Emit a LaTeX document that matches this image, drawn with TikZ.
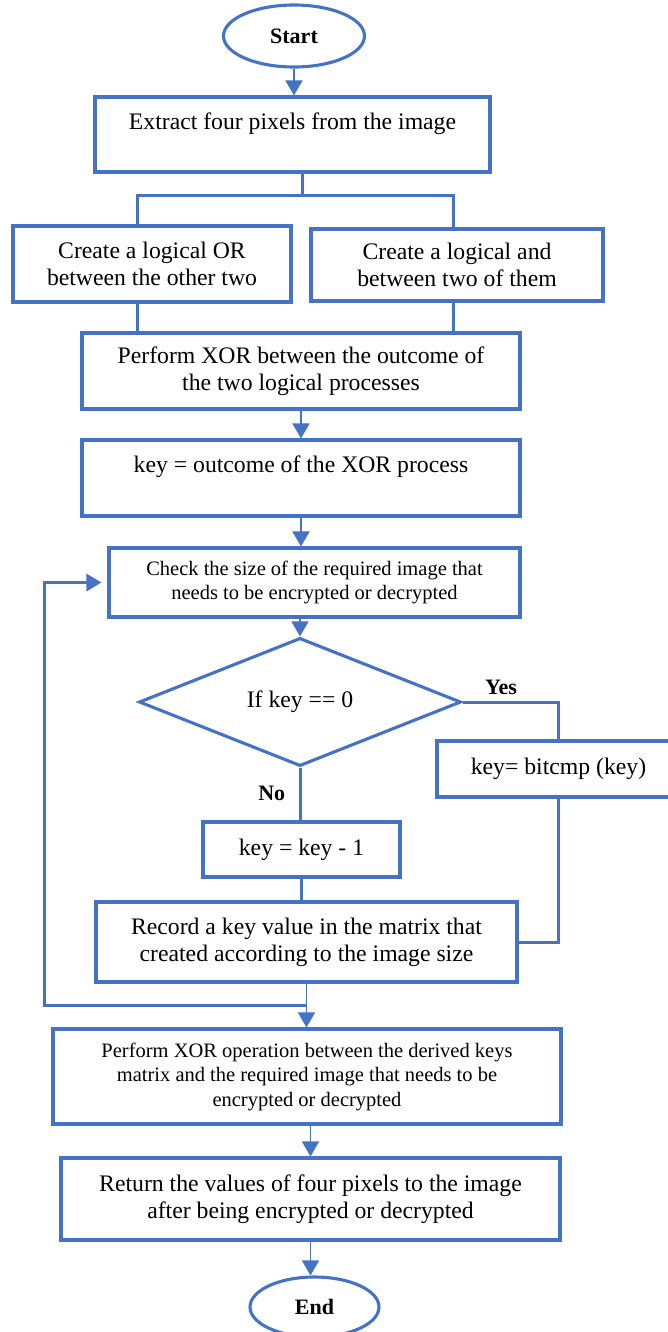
\documentclass[tikz,border=0pt]{standalone}
\usepackage{fontspec}
\setmainfont{Liberation Serif}
\usetikzlibrary{positioning, arrows.meta, calc, shapes.geometric}
\definecolor{flow_blue}{RGB}{68, 114, 196}

\begin{document}
\begin{tikzpicture}[x=1pt, y=-1pt, >={Triangle[width=17pt,length=15pt]},
      box/.style={draw=flow_blue, line width=3.1pt, align=center, inner sep=0pt,
        font=\fontsize{23.7}{27}\selectfont},
      smallbox/.style={box, font=\fontsize{20.5}{24.5}\selectfont},
      term/.style={ellipse, draw=flow_blue, line width=3.1pt, inner sep=0pt,
        font=\fontsize{22}{26}\selectfont\bfseries},
      decision/.style={diamond, draw=flow_blue, line width=3.1pt, inner sep=0pt,
        font=\fontsize{23.7}{27}\selectfont},
      link/.style={draw=flow_blue, line width=3pt},
      arr/.style={draw=flow_blue, line width=1.6pt, ->},
      tag/.style={font=\fontsize{22}{26}\selectfont\bfseries}]
    \useasboundingbox (0,0) rectangle (667,1332);
    \node[term, minimum width=141pt, minimum height=62pt] (start) at (294,36) {Start};
    \node[box, minimum width=395pt, minimum height=75pt] (extract) at (292.5,134.5)
      {Extract four pixels from the image\\ \mbox{}};
    \node[box, minimum width=278pt, minimum height=76pt] (orop) at (152,264)
      {Create a logical OR\\between the other two};
    \node[box, minimum width=292pt, minimum height=72pt] (andop) at (457,265)
      {Create a logical and\\between two of them};
    \node[box, minimum width=438pt, minimum height=76pt] (xorop) at (301,371)
      {Perform XOR between the outcome of\\the two logical processes};
    \node[box, minimum width=438pt, minimum height=76pt] (key) at (301,478)
      {key = outcome of the XOR process\\ \mbox{}};
    \node[smallbox, minimum width=411pt, minimum height=69pt] (size) at (314.5,582.5)
      {Check the size of the required image that\\needs to be encrypted or decrypted};
    \node[decision, minimum width=322pt, minimum height=105pt] (test) at (300,702) {If key == 0};
    \node[box, minimum width=243pt, minimum height=56pt] (flip) at (558.5,769) {key= bitcmp (key)};
    \node[box, minimum width=197pt, minimum height=55pt] (dec) at (301.5,849.5) {key = key - 1};
    \node[box, minimum width=421pt, minimum height=80pt] (record) at (306.5,942)
      {Record a key value in the matrix that\\created according to the image size};
    \node[smallbox, minimum width=508pt, minimum height=95pt] (apply) at (307,1076.5)
      {Perform XOR operation between the derived keys\\matrix and the required image that needs to be\\encrypted or decrypted};
    \node[box, minimum width=499pt, minimum height=82pt] (restore) at (310.5,1199)
      {Return the values of four pixels to the image\\after being encrypted or decrypted};
    \node[term, minimum width=129pt, minimum height=60pt] (stop) at (314.5,1307) {End};

    \coordinate (split) at (302,196);
    \coordinate (jl) at (137,196);
    \coordinate (jr) at (453,196);
    \coordinate (loop) at ($(record.south)+(0,22)$);

    \draw[arr] (start.south) -- (start.south |- extract.north);
    \draw[link] (split |- extract.south) -- (split);
    \draw[link] (jl |- orop.north) -- (jl) -- (jr) -- (jr |- andop.north);
    \draw[link] (jl |- orop.south) -- (jl |- xorop.north);
    \draw[link] (jr |- andop.south) -- (jr |- xorop.north);
    \draw[arr] (xorop) -- (key);
    \draw[arr] (key.south) -- (key.south |- size.north);
    \draw[arr] (test.north |- size.south) -- (test.north);
    \draw[link] (test.east) -| node[tag, pos=0.2, above=2pt] {Yes} (flip.north);
    \draw[link] (test.south) -- node[tag, pos=0.48, left=10pt] {No} (test.south |- dec.north);
    \draw[link] (flip.south) |- (record.east);
    \draw[link] (dec.south) -- (dec.south |- record.north);
    \draw[arr] (record.south) -- (record.south |- apply.north);
    \draw[link, ->] (loop) -| ([xshift=-63pt]size.west) -- ([xshift=-6pt]size.west);
    \draw[arr] (restore.north |- apply.south) -- (restore.north);
    \draw[arr] (restore.south) -- (restore.south |- stop.north);
  \end{tikzpicture}
\end{document}
